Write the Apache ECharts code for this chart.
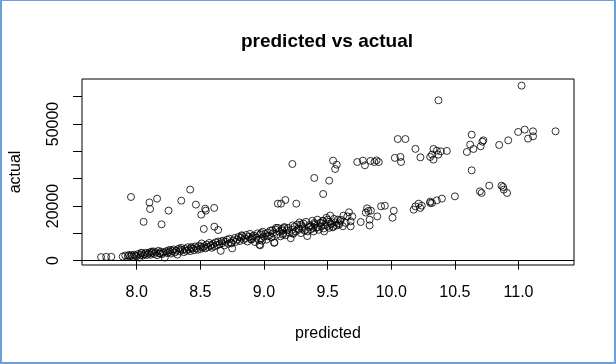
<!DOCTYPE html>
<html>
<head>
<meta charset="utf-8">
<script src="https://cdn.jsdelivr.net/npm/echarts@6/dist/echarts.min.js"></script>
<style>
html,body{margin:0;padding:0;background:#fff;}
#chart{width:616px;height:364px;}
</style>
</head>
<body>
<div id="chart"></div>
<script>
// Main lower band (predicted, actual)
const bandPredicted = [7.72,7.76,7.80,7.89,7.91,7.93,7.94,7.95,7.96,7.97,7.98,7.99,
8.00,8.01,8.02,8.03,8.04,8.05,8.06,8.07,8.08,8.09,8.10,8.11,8.12,8.13,8.14,8.15,8.16,8.17,8.18,8.19,8.20,
8.21,8.22,8.23,8.24,8.25,8.26,8.27,8.28,8.29,8.30,8.31,8.32,8.33,8.34,8.35,8.36,8.37,8.38,8.39,8.40,
8.41,8.42,8.43,8.44,8.45,8.46,8.47,8.48,8.49,8.50,8.51,8.52,8.53,8.54,8.55,8.56,8.57,8.58,8.59,8.60,
8.61,8.62,8.63,8.64,8.65,8.66,8.67,8.68,8.69,8.70,8.71,8.72,8.73,8.74,8.75,8.76,8.77,8.78,8.79,8.80,
8.81,8.82,8.83,8.84,8.85,8.86,8.87,8.88,8.89,8.90,8.91,8.92,8.93,8.94,8.95,8.96,8.97,8.98,8.99,9.00,8.97,
9.01,9.02,9.03,9.04,9.05,9.06,9.07,9.08,9.09,9.10,9.11,9.12,9.13,9.14,9.15,9.16,9.17,9.18,9.19,9.20,
9.21,9.22,9.23,9.24,9.25,9.26,9.27,9.28,9.29,9.30,9.31,9.32,9.33,9.34,9.35,9.36,9.37,9.38,9.39,9.40,
9.41,9.42,9.43,9.44,9.45,9.46,9.47,9.48,9.49,9.50,9.51,9.52,9.53,9.54,9.55,9.56,9.57,9.58,9.59,9.60,
9.603,9.624,9.642,9.655,9.668,9.681,9.681,9.694,9.59,9.62,
9.395,9.369,9.343,9.291,9.277,9.226,9.16,9.148,9.095,9.082,9.03,8.978,8.965,8.90,9.525,9.499,9.512,9.447,9.421,9.473,
8.035,8.115,8.185,8.265,8.345,8.425,8.505,8.585,8.665,8.745,8.825,8.905,8.985,9.065,9.145,9.225,9.305,9.385,9.465,9.545];
const bandActual = [1300,1400,1400,1500,1900,1700,2100,1600,2000,1400,2200,1800,
1600,2400,1100,2000,2700,1900,2300,2900,2100,2600,3000,2200,2800,3400,2500,3100,2000,3600,2700,3300,2400,
3000,1100,3400,2800,3800,3200,2600,3500,4100,3000,3700,2200,4400,3400,4700,3900,3100,4300,3600,4900,
4100,3500,5000,4400,3800,5200,4600,4000,5500,4300,6300,4800,5300,4500,5900,5000,6500,5400,4700,6100,
5200,6700,5700,7000,6000,3600,6400,7300,5600,6900,7700,6200,8000,6600,4500,7400,8300,6900,7800,8700,
7200,8400,9000,7600,8100,9400,7000,8700,9800,7900,8900,9200,6800,8400,10000,7500,9600,8200,10600,8800,5600,
9800,7700,10300,9100,11000,8500,10000,6500,11400,9500,12000,10600,8900,11600,10000,12300,9300,11100,12000,10200,
8200,11300,9800,12400,10700,13200,11700,14000,10100,12600,13600,11000,14200,9000,12300,13000,11500,14600,10700,13400,
12000,15000,11300,13800,12500,14500,11800,13100,15700,12700,14200,16500,13500,12200,15300,14000,12900,15000,13700,14500,
15000,16470,13800,16200,17700,14400,12560,16200,13200,12600,
13800,12560,10700,13200,11350,10100,12000,9500,12000,6700,8900,10100,5850,7700,13400,15000,12000,13800,12200,10700,
2900,3300,2600,3900,4100,4600,5100,5700,7100,6300,9300,8300,7300,11100,11000,12900,11700,12000,14600,12500];

// Second (right-hand) lower band
const midPredicted = [9.76,9.80,9.81,9.82,9.84,9.83,9.83,9.89,9.92,9.95,10.02,10.01,10.176,10.19,10.215,10.228,10.24,10.306,10.32,10.306,10.358,10.398,10.50,10.632,10.697,10.71,10.77,10.866,10.879,10.884,10.91];
const midActual = [14150,17600,19150,18200,18300,15000,12900,16200,19900,20100,18300,15700,18660,19870,20860,19290,20130,21120,21100,21600,22070,22700,23540,33050,25360,24770,27450,27450,26970,25990,24770];

// Left-hand high outliers
const leftPredicted = [7.955,8.10,8.105,8.16,8.25,8.054,8.195,8.35,8.42,8.465,8.538,8.543,8.507,8.609,8.527,8.61,8.64,9.109,9.134,9.168,9.254,9.395,9.512,9.465];
const leftActual = [23300,21300,18900,22700,18300,14200,13300,21960,26000,20500,19030,18300,16840,19300,11600,12440,11220,20860,20860,22200,20860,30270,29280,24400];

// Upper band
const upperPredicted = [11.024,10.371,10.997,11.049,11.114,11.114,11.075,11.291,10.919,10.848,10.632,10.62,10.646,10.594,10.703,10.724,10.716,10.332,10.358,10.306,10.332,10.39,10.437,10.229,10.32,10.37,10.051,10.111,10.028,10.072,10.077,10.19,9.223,9.543,9.572,9.559,9.733,9.777,9.793,9.837,9.868,9.884,9.902];
const upperActual = [64050,58670,47100,47950,47330,45500,44650,47330,44030,42340,46100,42460,40870,39770,41840,44030,43550,40880,40260,37950,36970,40000,40150,37800,38800,38800,44500,44500,37600,37950,36100,40900,35380,36600,35130,33560,36100,36600,34900,36500,36100,36700,36100];

const xTicks = [8.0,8.5,9.0,9.5,10.0,10.5,11.0];
const yTicks = [0,10000,20000,30000,40000,50000,60000];
const yLabels = [0,20000,50000];

const predicted = [].concat(bandPredicted, midPredicted, leftPredicted, upperPredicted);
const actual = [].concat(bandActual, midActual, leftActual, upperActual);
const points = predicted.map((p, i) => [p, actual[i]]);

const FONT = 'Liberation Sans, Arial, sans-serif';
const chart = echarts.init(document.getElementById('chart'), null, {renderer: 'canvas'});
chart.setOption({
  animation: false,
  backgroundColor: '#ffffff',
  grid: {left: 80, top: 79, width: 494, height: 186, show: true, borderColor: '#000', borderWidth: 1, backgroundColor: 'transparent'},
  xAxis: {
    type: 'value', min: 7.57, max: 11.436,
    name: 'predicted', nameLocation: 'middle', nameGap: 61,
    nameTextStyle: {fontFamily: FONT, fontSize: 16, color: '#000'},
    axisLine: {show: false},
    splitLine: {show: false},
    axisTick: {show: true, length: 9, inside: false, customValues: xTicks, lineStyle: {color: '#000', width: 1}},
    axisLabel: {show: true, customValues: xTicks, margin: 20, fontFamily: FONT, fontSize: 16, color: '#000',
      formatter: v => v.toFixed(1)}
  },
  yAxis: {
    type: 'value', min: -1585, max: 66470,
    name: 'actual', nameLocation: 'middle', nameGap: 58, nameRotate: 90,
    nameTextStyle: {fontFamily: FONT, fontSize: 16, color: '#000'},
    axisLine: {show: false},
    splitLine: {show: false},
    axisTick: {show: true, length: 9, inside: false, customValues: yTicks, lineStyle: {color: '#000', width: 1}},
    axisLabel: {show: true, customValues: yLabels, rotate: 90, margin: 20, fontFamily: FONT, fontSize: 16, color: '#000',
      formatter: v => String(v)}
  },
  title: {show: false},
  graphic: [
    {type: 'text', x: 327, y: 42, style: {text: 'predicted vs actual', font: 'bold 19px Liberation Sans, Arial, sans-serif', fill: '#000', textAlign: 'center', textVerticalAlign: 'middle'}, z: 10},
    {type: 'rect', shape: {x: 0, y: 0, width: 2, height: 364}, style: {fill: '#6ca0dc'}, z: 100},
    {type: 'rect', shape: {x: 0, y: 0, width: 616, height: 1}, style: {fill: '#6ca0dc'}, z: 100},
    {type: 'rect', shape: {x: 614, y: 0, width: 2, height: 364}, style: {fill: '#6ca0dc'}, z: 100},
    {type: 'rect', shape: {x: 0, y: 362, width: 616, height: 2}, style: {fill: '#6ca0dc'}, z: 100}
  ],
  series: [{
    type: 'scatter',
    data: points,
    symbol: 'circle',
    symbolSize: 7,
    itemStyle: {color: 'transparent', borderColor: '#000', borderWidth: 1},
    emphasis: {disabled: true},
    markLine: {
      silent: true, symbol: ['none', 'none'], label: {show: false},
      lineStyle: {color: '#000', width: 1, type: 'solid'},
      data: [{yAxis: 0}]
    }
  }]
});
</script>
</body>
</html>
